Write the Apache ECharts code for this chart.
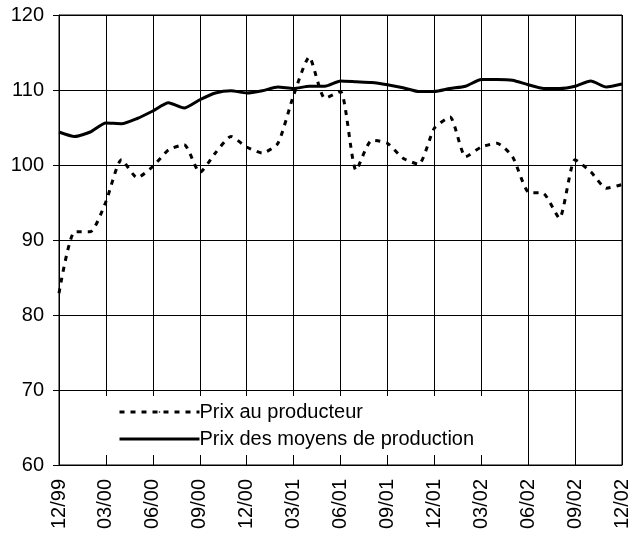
<!DOCTYPE html>
<html>
<head>
<meta charset="utf-8">
<script src="https://cdn.jsdelivr.net/npm/echarts@6/dist/echarts.min.js"></script>
<style>
  html, body { margin: 0; padding: 0; background: #fff; }
  #main { width: 632px; height: 537px; }
</style>
</head>
<body>
<div id="main"></div>
<script>
// mois, de 12/99 a 12/02
var months = ['12/99','01/00','02/00','03/00','04/00','05/00','06/00','07/00','08/00','09/00','10/00','11/00',
  '12/00','01/01','02/01','03/01','04/01','05/01','06/01','07/01','08/01','09/01','10/01','11/01',
  '12/01','01/02','02/02','03/02','04/02','05/02','06/02','07/02','08/02','09/02','10/02','11/02','12/02'];
var legendNames = ['Prix au producteur', 'Prix des moyens de production'];
var prodPrice = [82.9, 91.1, 91.1, 95.1, 100.7, 98.3, 99.8, 102.0, 102.7, 99.0, 101.6, 103.8,
  102.4, 101.6, 102.9, 109.3, 114.4, 108.9, 109.8, 99.3, 103.3, 102.9, 100.9, 100.1,
  104.9, 106.4, 101.1, 102.4, 102.9, 101.1, 96.4, 96.2, 92.9, 100.7, 99.1, 96.9, 97.4];
var inputPrice = [104.4, 103.8, 104.4, 105.6, 105.5, 106.2, 107.2, 108.3, 107.6, 108.7, 109.6, 109.9,
  109.6, 109.9, 110.4, 110.2, 110.5, 110.5, 111.2, 111.1, 111.0, 110.7, 110.3, 109.8,
  109.8, 110.2, 110.5, 111.4, 111.4, 111.3, 110.7, 110.2, 110.2, 110.5, 111.2, 110.4, 110.8];

var chart = echarts.init(document.getElementById('main'));
chart.setOption({
  animation: false,
  textStyle: { fontFamily: 'Liberation Sans, Arial, sans-serif', color: '#000' },
  grid: { left: 59, right: 8, top: 15, bottom: 72, show: true, borderColor: '#000', borderWidth: 1 },
  legend: {
    data: legendNames,
    orient: 'vertical',
    left: 70,
    top: 396,
    itemWidth: 80,
    itemHeight: 2,  // petit, pour cacher le rond du symbole
    itemGap: 7,
    backgroundColor: '#fff',
    padding: [6, 14, 6, 48],
    lineStyle: { width: 3 },
    textStyle: { fontSize: 20, color: '#000', padding: [0, 0, 0, -5] }
  },
  xAxis: {
    type: 'category',
    data: months,
    boundaryGap: false,
    axisLine: { lineStyle: { color: '#000', width: 1 } },
    axisTick: { interval: 2, length: 6, inside: true, lineStyle: { color: '#000' } },
    axisLabel: { interval: 2, rotate: 90, fontSize: 20, color: '#000', margin: 14 },
    splitLine: { show: true, interval: 2, lineStyle: { color: '#000', width: 1 } }
  },
  yAxis: {
    type: 'value',
    min: 60, max: 120, interval: 10,
    axisLine: { show: true, lineStyle: { color: '#000', width: 1 } },
    axisTick: { show: true, length: 6, lineStyle: { color: '#000' } },
    axisLabel: { fontSize: 20, color: '#000', margin: 15 },
    splitLine: { show: true, lineStyle: { color: '#000', width: 1 } }
  },
  series: [
    {
      name: legendNames[0],
      type: 'line',
      data: prodPrice,
      symbol: 'none',
      smooth: 0.2,
      lineStyle: { color: '#000', width: 3, type: [5, 6] },
      itemStyle: { color: '#000' },
      z: 3
    },
    {
      name: legendNames[1],
      type: 'line',
      data: inputPrice,
      symbol: 'none',
      smooth: 0.2,
      lineStyle: { color: '#000', width: 3, type: 'solid' },
      itemStyle: { color: '#000' },
      z: 3
    }
  ]
});
</script>
</body>
</html>
